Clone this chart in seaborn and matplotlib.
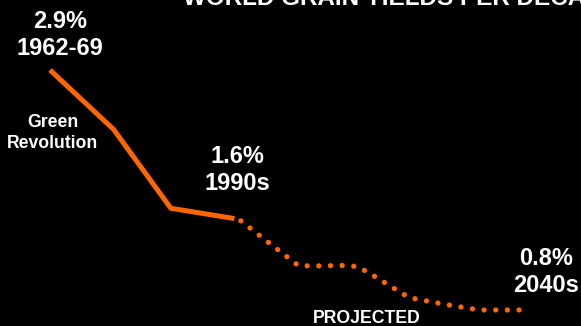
import matplotlib
matplotlib.use("Agg")
import matplotlib.pyplot as plt
import seaborn as sns
import pandas as pd

# Average annual growth of world grain yields, historical and projected
hist_years = [1965, 1975, 1984, 1994]
hist_rate = [2.9, 2.38, 1.69, 1.6]

proj_years = [1995, 2004, 2006, 2011.5, 2013.3, 2015, 2021.4, 2023.2, 2027, 2032.5, 2040]
proj_rate = [1.58, 1.19, 1.185, 1.19, 1.18, 1.13, 0.91, 0.89, 0.85, 0.80, 0.80]

title = "WORLD GRAIN YIELDS PER DECADE"
point_labels = [("2.9%", "1962-69"), ("1.6%", "1990s"), ("0.8%", "2040s")]
era_label = ("Green", "Revolution")
proj_label = "PROJECTED"

ORANGE = "#ff6600"
W, H = 581, 326

sns.set_style("dark", {"axes.facecolor": "black", "figure.facecolor": "black"})
plt.rcParams["font.family"] = ["Liberation Sans", "DejaVu Sans"]

fig = plt.figure(figsize=(W / 100, H / 100), dpi=100)
ax = fig.add_axes([0, 0, 1, 1])
ax.set_facecolor("black")

hist = pd.DataFrame({"year": hist_years, "rate": hist_rate})
proj = pd.DataFrame({"year": proj_years, "rate": proj_rate})

sns.lineplot(data=hist, x="year", y="rate", ax=ax, color=ORANGE,
             linewidth=3.6, solid_capstyle="butt", sort=False)
sns.lineplot(data=proj, x="year", y="rate", ax=ax, color=ORANGE,
             linewidth=3.8, linestyle=(0, (0.01, 2.2)),
             dash_capstyle="round", sort=False)

ax.set_xlim(1957.14, 2048.49)
ax.set_ylim(0.660, 3.5125)
ax.set_axis_off()


def px(x, y):
    """Pixel position (from top-left) to figure fraction."""
    return x / W, 1 - y / H


def label(x, y, s, size, ha="center"):
    fx, fy = px(x, y)
    fig.text(fx, fy, s, color="white", fontsize=size, fontweight="bold",
             ha=ha, va="baseline")


label(183, 5, title, 17.5, ha="left")

label(60, 28, point_labels[0][0], 17)
label(60, 55, point_labels[0][1], 17)
label(237, 163, point_labels[1][0], 17)
label(237, 190, point_labels[1][1], 17)
label(546, 265, point_labels[2][0], 17)
label(546, 292, point_labels[2][1], 17)

label(53, 127, era_label[0], 12.7)
label(53, 148, era_label[1], 12.7)

label(367, 323, proj_label, 12.7)

fig.savefig("out.png", dpi=100, facecolor="black")
